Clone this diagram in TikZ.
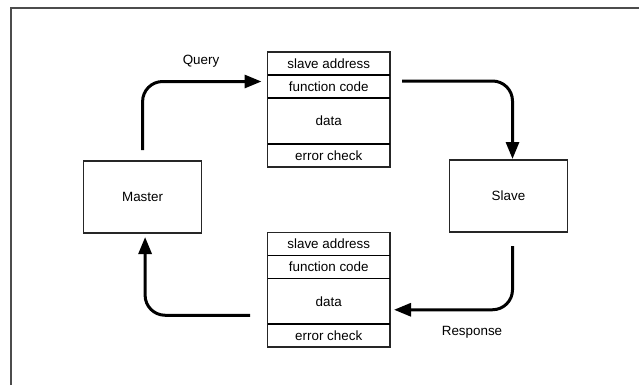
\documentclass[tikz,border=0pt]{standalone}
\usepackage{fontspec}
\setmainfont{Liberation Sans}
\usetikzlibrary{arrows.meta}

\begin{document}
\begin{tikzpicture}[x=1bp, y=-1bp,
		box/.style={draw=black!85, line width=1.2bp, inner sep=0, outer sep=0, minimum width=118bp, minimum height=72bp, font=\fontsize{13.4bp}{16bp}\selectfont},
		field/.style={draw=black!85, line width=1.1bp, inner sep=0, outer sep=0, minimum width=122.5bp, minimum height=23bp, font=\fontsize{13.4bp}{16bp}\selectfont},
		rowline/.style={line width=1.9bp, color=black},
		flow/.style={line width=3bp, rounded corners=20bp, -{Triangle[length=17bp, width=13bp]}},
		lbl/.style={inner sep=0, font=\fontsize{13.4bp}{16bp}\selectfont}]
		%%%%% START %%%%%
		
		\useasboundingbox (0, 0) rectangle (639, 385);
		\draw[line width=2bp, color=black!70] (11, 385) -- (11, 8) -- (639, 8);
		
		\node[box] (master) at (142.6, 197) {Master};
		\node[box] (slave) at (508.5, 196) {Slave};
		
		\node[field] (qaddr) at (328.75, 63.5) {slave address};
		\node[field] (qfunc) at (328.75, 86.5) {function code};
		\node[field, minimum height=46bp] (qdata) at (328.75, 121) {data};
		\node[field] (qcheck) at (328.75, 155.5) {error check};
		
		\node[field] (raddr) at (328.75, 244) {slave address};
		\node[field] (rfunc) at (328.75, 267) {function code};
		\node[field, minimum height=45.5bp] (rdata) at (328.75, 301.25) {data};
		\node[field] (rcheck) at (328.75, 335.5) {error check};
		
		\foreach \r in {qaddr, qfunc, qdata, raddr, rfunc, rdata}
			\draw[rowline] (\r.south west) -- (\r.south east);
		
		\node[lbl] (query) at (201, 61) {Query};
		\node[lbl] (response) at (472, 332) {Response};
		
		\draw[flow] ([yshift=11bp]master.north) |- ([xshift=-6bp, yshift=5bp]qfunc.west);
		\draw[flow] ([xshift=12bp, yshift=5.5bp]qfunc.east) -| ([xshift=4bp, yshift=1bp]slave.north);
		\draw[flow] ([xshift=4bp, yshift=-14bp]slave.south) |- ([xshift=4bp, yshift=-8.5bp]rdata.east);
		\draw[flow] ([xshift=-17.5bp, yshift=-14bp]rdata.west) -| ([xshift=2.5bp, yshift=-4bp]master.south);
		
		%%%%% END %%%%%
	\end{tikzpicture}
\end{document}
